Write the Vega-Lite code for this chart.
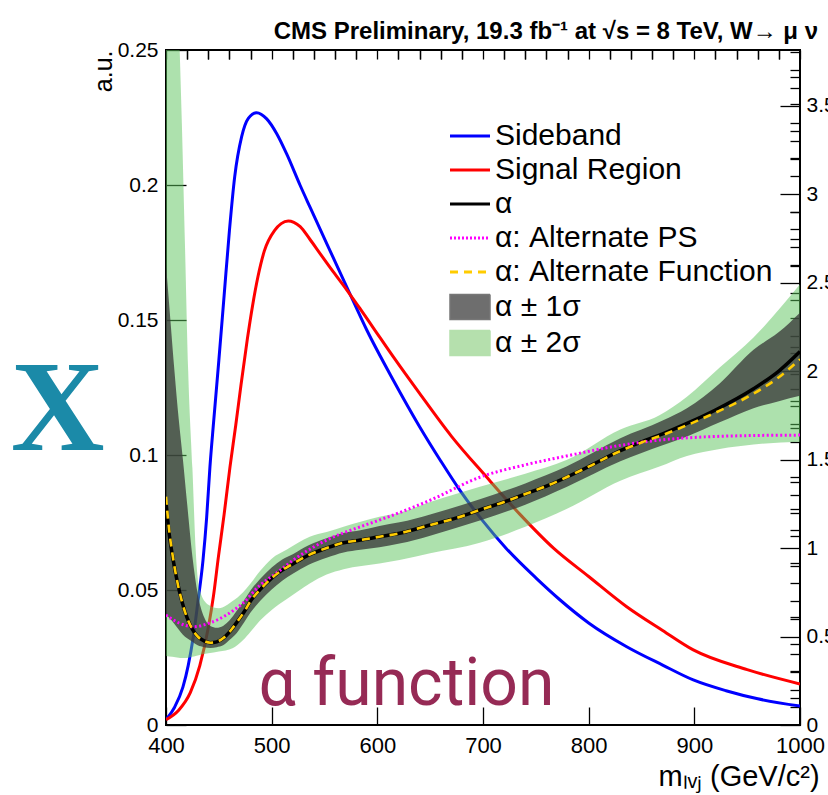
{
  "$schema": "https://vega.github.io/schema/vega-lite/v6.json",
  "width": 634,
  "height": 675,
  "autosize": {"type": "none"},
  "padding": {"left": 166, "top": 50, "right": 28, "bottom": 70},
  "background": "white",
  "config": {
    "view": {"stroke": "black", "strokeWidth": 2},
    "font": "Liberation Sans",
    "axis": {"grid": false, "domain": false, "tickColor": "black", "labelColor": "black", "titleColor": "black", "labelFont": "Liberation Sans", "titleFont": "Liberation Sans", "titleFontWeight": "normal", "tickWidth": 1.3}
  },
  "title": {"text": "CMS Preliminary, 19.3 fb⁻¹ at √s = 8 TeV, W→ μ ν", "anchor": "end", "frame": "group", "fontSize": 24, "font": "Liberation Sans", "fontWeight": "bold", "dx": 18, "dy": 37, "offset": 8, "baseline": "bottom", "color": "black"},
  "datasets": {
    "density": [
      {"m": 400, "value": 0.002, "series": "Sideband"},
      {"m": 408, "value": 0.0065, "series": "Sideband"},
      {"m": 416, "value": 0.014, "series": "Sideband"},
      {"m": 421, "value": 0.022, "series": "Sideband"},
      {"m": 425.8, "value": 0.0326, "series": "Sideband"},
      {"m": 430, "value": 0.045, "series": "Sideband"},
      {"m": 435, "value": 0.061, "series": "Sideband"},
      {"m": 438.5, "value": 0.077, "series": "Sideband"},
      {"m": 441.6, "value": 0.0957, "series": "Sideband"},
      {"m": 445, "value": 0.112, "series": "Sideband"},
      {"m": 450, "value": 0.135, "series": "Sideband"},
      {"m": 455, "value": 0.159, "series": "Sideband"},
      {"m": 460, "value": 0.183, "series": "Sideband"},
      {"m": 465, "value": 0.203, "series": "Sideband"},
      {"m": 471.6, "value": 0.2179, "series": "Sideband"},
      {"m": 477.9, "value": 0.2247, "series": "Sideband"},
      {"m": 485.8, "value": 0.2268, "series": "Sideband"},
      {"m": 495.3, "value": 0.2245, "series": "Sideband"},
      {"m": 504.8, "value": 0.219, "series": "Sideband"},
      {"m": 514.2, "value": 0.2115, "series": "Sideband"},
      {"m": 526.8, "value": 0.2, "series": "Sideband"},
      {"m": 536.3, "value": 0.1918, "series": "Sideband"},
      {"m": 552, "value": 0.1784, "series": "Sideband"},
      {"m": 571, "value": 0.1623, "series": "Sideband"},
      {"m": 590, "value": 0.1463, "series": "Sideband"},
      {"m": 615, "value": 0.1278, "series": "Sideband"},
      {"m": 640, "value": 0.1105, "series": "Sideband"},
      {"m": 660, "value": 0.0978, "series": "Sideband"},
      {"m": 678, "value": 0.087, "series": "Sideband"},
      {"m": 700, "value": 0.0755, "series": "Sideband"},
      {"m": 722, "value": 0.0654, "series": "Sideband"},
      {"m": 750, "value": 0.0545, "series": "Sideband"},
      {"m": 773, "value": 0.0463, "series": "Sideband"},
      {"m": 800, "value": 0.0378, "series": "Sideband"},
      {"m": 836, "value": 0.029, "series": "Sideband"},
      {"m": 870, "value": 0.0222, "series": "Sideband"},
      {"m": 899, "value": 0.0167, "series": "Sideband"},
      {"m": 930, "value": 0.0127, "series": "Sideband"},
      {"m": 960, "value": 0.0097, "series": "Sideband"},
      {"m": 1000, "value": 0.007, "series": "Sideband"},
      {"m": 400, "value": 0.002, "series": "Signal Region"},
      {"m": 412, "value": 0.0055, "series": "Signal Region"},
      {"m": 423, "value": 0.012, "series": "Signal Region"},
      {"m": 432, "value": 0.022, "series": "Signal Region"},
      {"m": 440, "value": 0.036, "series": "Signal Region"},
      {"m": 445, "value": 0.048, "series": "Signal Region"},
      {"m": 449.5, "value": 0.062, "series": "Signal Region"},
      {"m": 455, "value": 0.078, "series": "Signal Region"},
      {"m": 460.6, "value": 0.0957, "series": "Signal Region"},
      {"m": 466, "value": 0.111, "series": "Signal Region"},
      {"m": 471, "value": 0.126, "series": "Signal Region"},
      {"m": 477, "value": 0.143, "series": "Signal Region"},
      {"m": 482, "value": 0.1555, "series": "Signal Region"},
      {"m": 487, "value": 0.166, "series": "Signal Region"},
      {"m": 493, "value": 0.1755, "series": "Signal Region"},
      {"m": 503, "value": 0.1833, "series": "Signal Region"},
      {"m": 509, "value": 0.1857, "series": "Signal Region"},
      {"m": 515.7, "value": 0.1867, "series": "Signal Region"},
      {"m": 521, "value": 0.1862, "series": "Signal Region"},
      {"m": 527, "value": 0.1846, "series": "Signal Region"},
      {"m": 536, "value": 0.18, "series": "Signal Region"},
      {"m": 546, "value": 0.1745, "series": "Signal Region"},
      {"m": 558, "value": 0.168, "series": "Signal Region"},
      {"m": 571, "value": 0.1612, "series": "Signal Region"},
      {"m": 584, "value": 0.154, "series": "Signal Region"},
      {"m": 596, "value": 0.1472, "series": "Signal Region"},
      {"m": 615, "value": 0.1364, "series": "Signal Region"},
      {"m": 640, "value": 0.1228, "series": "Signal Region"},
      {"m": 670, "value": 0.107, "series": "Signal Region"},
      {"m": 703, "value": 0.092, "series": "Signal Region"},
      {"m": 735, "value": 0.078, "series": "Signal Region"},
      {"m": 767, "value": 0.0654, "series": "Signal Region"},
      {"m": 800, "value": 0.055, "series": "Signal Region"},
      {"m": 836, "value": 0.0438, "series": "Signal Region"},
      {"m": 870, "value": 0.035, "series": "Signal Region"},
      {"m": 899, "value": 0.0278, "series": "Signal Region"},
      {"m": 950, "value": 0.0205, "series": "Signal Region"},
      {"m": 1000, "value": 0.0152, "series": "Signal Region"}
    ],
    "alpha": [
      {"m": 400, "a": 1.26, "series": "α"},
      {"m": 403, "a": 1.08, "series": "α"},
      {"m": 406, "a": 0.96, "series": "α"},
      {"m": 410, "a": 0.83, "series": "α"},
      {"m": 415, "a": 0.70, "series": "α"},
      {"m": 420, "a": 0.605, "series": "α"},
      {"m": 425, "a": 0.54, "series": "α"},
      {"m": 430, "a": 0.50, "series": "α"},
      {"m": 436, "a": 0.475, "series": "α"},
      {"m": 442, "a": 0.465, "series": "α"},
      {"m": 448, "a": 0.47, "series": "α"},
      {"m": 454, "a": 0.49, "series": "α"},
      {"m": 460, "a": 0.525, "series": "α"},
      {"m": 467, "a": 0.58, "series": "α"},
      {"m": 474, "a": 0.64, "series": "α"},
      {"m": 480, "a": 0.70, "series": "α"},
      {"m": 489, "a": 0.765, "series": "α"},
      {"m": 500, "a": 0.83, "series": "α"},
      {"m": 510, "a": 0.875, "series": "α"},
      {"m": 520, "a": 0.91, "series": "α"},
      {"m": 535, "a": 0.96, "series": "α"},
      {"m": 552, "a": 1.0, "series": "α"},
      {"m": 568, "a": 1.03, "series": "α"},
      {"m": 584, "a": 1.045, "series": "α"},
      {"m": 602, "a": 1.064, "series": "α"},
      {"m": 621, "a": 1.083, "series": "α"},
      {"m": 650, "a": 1.13, "series": "α"},
      {"m": 675, "a": 1.17, "series": "α"},
      {"m": 697, "a": 1.215, "series": "α"},
      {"m": 720, "a": 1.26, "series": "α"},
      {"m": 740, "a": 1.305, "series": "α"},
      {"m": 760, "a": 1.35, "series": "α"},
      {"m": 779, "a": 1.40, "series": "α"},
      {"m": 800, "a": 1.46, "series": "α"},
      {"m": 830, "a": 1.55, "series": "α"},
      {"m": 850, "a": 1.60, "series": "α"},
      {"m": 870, "a": 1.645, "series": "α"},
      {"m": 893, "a": 1.704, "series": "α"},
      {"m": 920, "a": 1.78, "series": "α"},
      {"m": 956, "a": 1.90, "series": "α"},
      {"m": 980, "a": 2.00, "series": "α"},
      {"m": 1000, "a": 2.11, "series": "α"},
      {"m": 400, "a": 1.29, "series": "α: Alternate Function"},
      {"m": 403, "a": 1.10, "series": "α: Alternate Function"},
      {"m": 406, "a": 0.97, "series": "α: Alternate Function"},
      {"m": 410, "a": 0.83, "series": "α: Alternate Function"},
      {"m": 415, "a": 0.70, "series": "α: Alternate Function"},
      {"m": 420, "a": 0.605, "series": "α: Alternate Function"},
      {"m": 425, "a": 0.54, "series": "α: Alternate Function"},
      {"m": 430, "a": 0.50, "series": "α: Alternate Function"},
      {"m": 436, "a": 0.475, "series": "α: Alternate Function"},
      {"m": 442, "a": 0.465, "series": "α: Alternate Function"},
      {"m": 448, "a": 0.47, "series": "α: Alternate Function"},
      {"m": 454, "a": 0.49, "series": "α: Alternate Function"},
      {"m": 460, "a": 0.525, "series": "α: Alternate Function"},
      {"m": 467, "a": 0.58, "series": "α: Alternate Function"},
      {"m": 474, "a": 0.64, "series": "α: Alternate Function"},
      {"m": 480, "a": 0.70, "series": "α: Alternate Function"},
      {"m": 489, "a": 0.765, "series": "α: Alternate Function"},
      {"m": 500, "a": 0.83, "series": "α: Alternate Function"},
      {"m": 510, "a": 0.875, "series": "α: Alternate Function"},
      {"m": 520, "a": 0.91, "series": "α: Alternate Function"},
      {"m": 535, "a": 0.96, "series": "α: Alternate Function"},
      {"m": 552, "a": 1.0, "series": "α: Alternate Function"},
      {"m": 568, "a": 1.03, "series": "α: Alternate Function"},
      {"m": 584, "a": 1.045, "series": "α: Alternate Function"},
      {"m": 602, "a": 1.064, "series": "α: Alternate Function"},
      {"m": 621, "a": 1.083, "series": "α: Alternate Function"},
      {"m": 650, "a": 1.13, "series": "α: Alternate Function"},
      {"m": 675, "a": 1.17, "series": "α: Alternate Function"},
      {"m": 697, "a": 1.215, "series": "α: Alternate Function"},
      {"m": 720, "a": 1.26, "series": "α: Alternate Function"},
      {"m": 740, "a": 1.305, "series": "α: Alternate Function"},
      {"m": 760, "a": 1.35, "series": "α: Alternate Function"},
      {"m": 779, "a": 1.40, "series": "α: Alternate Function"},
      {"m": 800, "a": 1.46, "series": "α: Alternate Function"},
      {"m": 830, "a": 1.548, "series": "α: Alternate Function"},
      {"m": 850, "a": 1.596, "series": "α: Alternate Function"},
      {"m": 870, "a": 1.638, "series": "α: Alternate Function"},
      {"m": 893, "a": 1.694, "series": "α: Alternate Function"},
      {"m": 920, "a": 1.765, "series": "α: Alternate Function"},
      {"m": 956, "a": 1.872, "series": "α: Alternate Function"},
      {"m": 980, "a": 1.965, "series": "α: Alternate Function"},
      {"m": 1000, "a": 2.066, "series": "α: Alternate Function"},
      {"m": 400, "a": 0.621, "series": "α: Alternate PS"},
      {"m": 413, "a": 0.575, "series": "α: Alternate PS"},
      {"m": 426, "a": 0.555, "series": "α: Alternate PS"},
      {"m": 442, "a": 0.578, "series": "α: Alternate PS"},
      {"m": 457, "a": 0.621, "series": "α: Alternate PS"},
      {"m": 473, "a": 0.69, "series": "α: Alternate PS"},
      {"m": 489, "a": 0.79, "series": "α: Alternate PS"},
      {"m": 505, "a": 0.86, "series": "α: Alternate PS"},
      {"m": 520, "a": 0.93, "series": "α: Alternate PS"},
      {"m": 552, "a": 1.045, "series": "α: Alternate PS"},
      {"m": 584, "a": 1.12, "series": "α: Alternate PS"},
      {"m": 602, "a": 1.158, "series": "α: Alternate PS"},
      {"m": 621, "a": 1.2, "series": "α: Alternate PS"},
      {"m": 650, "a": 1.27, "series": "α: Alternate PS"},
      {"m": 697, "a": 1.40, "series": "α: Alternate PS"},
      {"m": 740, "a": 1.47, "series": "α: Alternate PS"},
      {"m": 779, "a": 1.52, "series": "α: Alternate PS"},
      {"m": 830, "a": 1.58, "series": "α: Alternate PS"},
      {"m": 867, "a": 1.61, "series": "α: Alternate PS"},
      {"m": 900, "a": 1.625, "series": "α: Alternate PS"},
      {"m": 950, "a": 1.635, "series": "α: Alternate PS"},
      {"m": 1000, "a": 1.638, "series": "α: Alternate PS"}
    ],
    "band1": [
      {"m": 400, "lo": 0.62, "hi": 2.60},
      {"m": 404, "lo": 0.60, "hi": 2.30},
      {"m": 408, "lo": 0.57, "hi": 2.00},
      {"m": 412, "lo": 0.54, "hi": 1.73},
      {"m": 416, "lo": 0.51, "hi": 1.50},
      {"m": 420, "lo": 0.49, "hi": 1.25},
      {"m": 425, "lo": 0.47, "hi": 0.95},
      {"m": 430, "lo": 0.45, "hi": 0.74},
      {"m": 436, "lo": 0.44, "hi": 0.61},
      {"m": 442, "lo": 0.435, "hi": 0.56},
      {"m": 448, "lo": 0.44, "hi": 0.55},
      {"m": 454, "lo": 0.45, "hi": 0.56},
      {"m": 460, "lo": 0.48, "hi": 0.59},
      {"m": 467, "lo": 0.52, "hi": 0.645},
      {"m": 474, "lo": 0.58, "hi": 0.705},
      {"m": 480, "lo": 0.635, "hi": 0.76},
      {"m": 489, "lo": 0.70, "hi": 0.825},
      {"m": 500, "lo": 0.765, "hi": 0.89},
      {"m": 510, "lo": 0.815, "hi": 0.935},
      {"m": 520, "lo": 0.855, "hi": 0.965},
      {"m": 535, "lo": 0.905, "hi": 1.015},
      {"m": 552, "lo": 0.945, "hi": 1.055},
      {"m": 568, "lo": 0.975, "hi": 1.085},
      {"m": 584, "lo": 0.99, "hi": 1.10},
      {"m": 602, "lo": 1.005, "hi": 1.125},
      {"m": 621, "lo": 1.025, "hi": 1.145},
      {"m": 650, "lo": 1.07, "hi": 1.19},
      {"m": 697, "lo": 1.155, "hi": 1.275},
      {"m": 740, "lo": 1.245, "hi": 1.365},
      {"m": 779, "lo": 1.345, "hi": 1.46},
      {"m": 830, "lo": 1.49, "hi": 1.62},
      {"m": 870, "lo": 1.58, "hi": 1.72},
      {"m": 893, "lo": 1.63, "hi": 1.79},
      {"m": 924, "lo": 1.71, "hi": 1.93},
      {"m": 956, "lo": 1.79, "hi": 2.12},
      {"m": 980, "lo": 1.83, "hi": 2.22},
      {"m": 1000, "lo": 1.86, "hi": 2.33}
    ],
    "band2": [
      {"m": 400, "lo": 0.39, "hi": 6.0},
      {"m": 406, "lo": 0.385, "hi": 5.2},
      {"m": 412, "lo": 0.38, "hi": 4.0},
      {"m": 415, "lo": 0.378, "hi": 3.4},
      {"m": 418, "lo": 0.378, "hi": 2.7},
      {"m": 421, "lo": 0.38, "hi": 2.0},
      {"m": 425, "lo": 0.385, "hi": 1.45},
      {"m": 428, "lo": 0.39, "hi": 1.0},
      {"m": 432, "lo": 0.395, "hi": 0.76},
      {"m": 440, "lo": 0.405, "hi": 0.68},
      {"m": 450, "lo": 0.415, "hi": 0.66},
      {"m": 463, "lo": 0.434, "hi": 0.70},
      {"m": 473, "lo": 0.48, "hi": 0.75},
      {"m": 480, "lo": 0.527, "hi": 0.80},
      {"m": 489, "lo": 0.59, "hi": 0.87},
      {"m": 500, "lo": 0.65, "hi": 0.94},
      {"m": 514, "lo": 0.71, "hi": 0.99},
      {"m": 536, "lo": 0.80, "hi": 1.064},
      {"m": 552, "lo": 0.85, "hi": 1.09},
      {"m": 568, "lo": 0.88, "hi": 1.12},
      {"m": 602, "lo": 0.913, "hi": 1.177},
      {"m": 621, "lo": 0.932, "hi": 1.20},
      {"m": 650, "lo": 0.97, "hi": 1.26},
      {"m": 697, "lo": 1.03, "hi": 1.346},
      {"m": 740, "lo": 1.12, "hi": 1.42},
      {"m": 779, "lo": 1.22, "hi": 1.497},
      {"m": 830, "lo": 1.38, "hi": 1.67},
      {"m": 867, "lo": 1.46, "hi": 1.75},
      {"m": 893, "lo": 1.52, "hi": 1.855},
      {"m": 924, "lo": 1.56, "hi": 2.02},
      {"m": 956, "lo": 1.585, "hi": 2.19},
      {"m": 1000, "lo": 1.60, "hi": 2.49}
    ],
    "notes": [{"text": "α function"}],
    "logo": [{"text": "X"}]
  },
  "layer": [
    {
      "layer": [
        {
          "data": {"name": "density"},
          "mark": {"type": "line", "strokeWidth": 3, "clip": true, "interpolate": "monotone"},
          "encoding": {
            "x": {"field": "m", "type": "quantitative", "scale": {"domain": [400, 1000], "nice": false, "zero": false},
              "axis": {"values": [400, 500, 600, 700, 800, 900, 1000], "format": "d", "tickSize": -18, "labelPadding": 28, "labelFontSize": 22, "labelFlush": false,
                "title": "mₗᵥⱼ (GeV/c²)", "titleFontSize": 29, "titleX": 492, "titleY": 60, "titleAlign": "left", "titleBaseline": "alphabetic", "titleAnchor": null}},
            "y": {"field": "value", "type": "quantitative", "scale": {"domain": [0, 0.25], "nice": false},
              "axis": {"values": [0, 0.05, 0.1, 0.15, 0.2, 0.25], "format": "~g", "tickSize": -20, "labelPadding": 28, "labelFontSize": 21, "labelFlush": false,
                "title": "a.u.", "titleFontSize": 25, "titleAngle": -90, "titleX": -55, "titleY": 0, "titleAlign": "right", "titleBaseline": "alphabetic", "titleAnchor": null}},
            "color": {"field": "series", "type": "nominal",
              "scale": {"domain": ["Sideband", "Signal Region", "α", "α: Alternate PS", "α: Alternate Function", "α ± 1σ", "α ± 2σ"],
                        "range": ["#0000ff", "#ff0000", "#000000", "#ff00ff", "#ffcc00", "#777777", "#b5e0ad"]},
              "legend": {"orient": "none", "legendX": 289, "legendY": 71, "title": null, "labelFontSize": 30, "labelFont": "Liberation Sans", "labelColor": "black",
                "symbolType": "stroke", "symbolSize": 1600, "symbolStrokeWidth": 3, "rowPadding": 4, "labelOffset": 10, "padding": 0, "labelLimit": 500,
                "encode": {"symbols": {"update": {
                  "shape": {"signal": "datum.value === 'α ± 1σ' || datum.value === 'α ± 2σ' ? 'M-1,-0.62H1V0.62H-1Z' : 'stroke'"},
                  "size": {"value": 1600},
                  "strokeDash": {"signal": "datum.value === 'α: Alternate PS' ? [2,2] : datum.value === 'α: Alternate Function' ? [8,6] : [1,0]"},
                  "strokeWidth": {"signal": "datum.value === 'α ± 1σ' || datum.value === 'α ± 2σ' ? 1.5 : 3"},
                  "stroke": {"signal": "datum.value === 'Sideband' ? '#0000ff' : datum.value === 'Signal Region' ? '#ff0000' : datum.value === 'α' ? '#000000' : datum.value === 'α: Alternate PS' ? '#ff00ff' : datum.value === 'α: Alternate Function' ? '#ffcc00' : '#222222'"},
                  "fill": {"signal": "datum.value === 'α ± 1σ' ? '#6e6e6e' : datum.value === 'α ± 2σ' ? '#b5e0ad' : 'transparent'"},
                  "opacity": {"value": 1}
                }}}}
            }
          }
        },
        {
          "data": {"name": "density"},
          "mark": {"type": "point", "opacity": 0},
          "encoding": {
            "x": {"field": "m", "type": "quantitative", "scale": {"domain": [400, 1000], "nice": false, "zero": false},
              "axis": {"values": [420, 440, 460, 480, 520, 540, 560, 580, 620, 640, 660, 680, 720, 740, 760, 780, 820, 840, 860, 880, 920, 940, 960, 980], "tickSize": -9, "labels": false, "title": null}},
            "y": {"field": "value", "type": "quantitative",
              "axis": {"values": [0.01, 0.02, 0.03, 0.04, 0.06, 0.07, 0.08, 0.09, 0.11, 0.12, 0.13, 0.14, 0.16, 0.17, 0.18, 0.19, 0.21, 0.22, 0.23, 0.24], "tickSize": -10, "labels": false, "title": null}}
          }
        },
        {
          "data": {"name": "density"},
          "mark": {"type": "point", "opacity": 0},
          "encoding": {
            "x": {"field": "m", "type": "quantitative",
              "axis": {"orient": "top", "values": [400, 420, 440, 460, 480, 500, 520, 540, 560, 580, 600, 620, 640, 660, 680, 700, 720, 740, 760, 780, 800, 820, 840, 860, 880, 900, 920, 940, 960, 980, 1000], "tickSize": -9, "labels": false, "title": null}},
            "y": {"field": "value", "type": "quantitative", "axis": null}
          }
        },
        {
          "data": {"name": "notes"},
          "mark": {"type": "text", "font": "Roboto", "fontSize": 66, "color": "#962a55", "align": "center", "baseline": "alphabetic"},
          "encoding": {
            "x": {"datum": 627.6, "type": "quantitative", "axis": null},
            "y": {"datum": 0.0074, "type": "quantitative", "axis": null},
            "text": {"field": "text"}
          }
        },
        {
          "data": {"name": "logo"},
          "mark": {"type": "text", "font": "Liberation Serif", "fontWeight": "bold", "fontSize": 130, "color": "#1b8aa8", "align": "center", "baseline": "alphabetic"},
          "encoding": {
            "x": {"datum": 297.5, "type": "quantitative", "axis": null},
            "y": {"datum": 0.102, "type": "quantitative", "axis": null},
            "text": {"field": "text"}
          }
        }
      ],
      "resolve": {"axis": {"x": "independent", "y": "independent"}}
    },
    {
      "layer": [
        {
          "data": {"name": "band2"},
          "mark": {"type": "area", "fill": "#5cc45c", "opacity": 0.5, "clip": true, "interpolate": "monotone"},
          "encoding": {
            "x": {"field": "m", "type": "quantitative", "scale": {"domain": [400, 1000], "nice": false, "zero": false}, "axis": null},
            "y": {"field": "lo", "type": "quantitative", "scale": {"domain": [0, 3.814], "nice": false}, "axis": null},
            "y2": {"field": "hi"}
          }
        },
        {
          "data": {"name": "band1"},
          "mark": {"type": "area", "fill": "#3a3a3a", "opacity": 0.78, "clip": true, "interpolate": "monotone"},
          "encoding": {
            "x": {"field": "m", "type": "quantitative", "axis": null},
            "y": {"field": "lo", "type": "quantitative", "axis": null},
            "y2": {"field": "hi"}
          }
        },
        {
          "data": {"name": "alpha"},
          "transform": [{"filter": "datum.series === 'α'"}],
          "mark": {"type": "line", "color": "#000000", "strokeWidth": 3.5, "clip": true, "interpolate": "monotone"},
          "encoding": {
            "x": {"field": "m", "type": "quantitative", "axis": null},
            "y": {"field": "a", "type": "quantitative", "axis": null}
          }
        },
        {
          "data": {"name": "alpha"},
          "transform": [{"filter": "datum.series === 'α: Alternate PS'"}],
          "mark": {"type": "line", "color": "#ff00ff", "strokeWidth": 3, "strokeDash": [2, 2.5], "clip": true, "interpolate": "monotone"},
          "encoding": {
            "x": {"field": "m", "type": "quantitative", "axis": null},
            "y": {"field": "a", "type": "quantitative", "axis": null}
          }
        },
        {
          "data": {"name": "alpha"},
          "transform": [{"filter": "datum.series === 'α: Alternate Function'"}],
          "mark": {"type": "line", "color": "#ffcc00", "strokeWidth": 2.6, "strokeDash": [8, 6], "clip": true, "interpolate": "monotone"},
          "encoding": {
            "x": {"field": "m", "type": "quantitative", "axis": null},
            "y": {"field": "a", "type": "quantitative", "axis": null}
          }
        },
        {
          "data": {"name": "alpha"},
          "mark": {"type": "point", "opacity": 0},
          "encoding": {
            "x": {"field": "m", "type": "quantitative", "axis": null},
            "y": {"field": "a", "type": "quantitative",
              "axis": {"orient": "right", "values": [0, 0.5, 1, 1.5, 2, 2.5, 3, 3.5], "format": "~g", "tickSize": -20, "labelPadding": 26, "labelFontSize": 21, "labelFlush": false, "title": null}}
          }
        },
        {
          "data": {"name": "alpha"},
          "mark": {"type": "point", "opacity": 0},
          "encoding": {
            "x": {"field": "m", "type": "quantitative", "axis": null},
            "y": {"field": "a", "type": "quantitative",
              "axis": {"orient": "right", "values": [0.1, 0.2, 0.3, 0.4, 0.6, 0.7, 0.8, 0.9, 1.1, 1.2, 1.3, 1.4, 1.6, 1.7, 1.8, 1.9, 2.1, 2.2, 2.3, 2.4, 2.6, 2.7, 2.8, 2.9, 3.1, 3.2, 3.3, 3.4, 3.6, 3.7, 3.8], "tickSize": -10, "labels": false, "title": null}}
          }
        }
      ],
      "resolve": {"axis": {"y": "independent"}}
    }
  ],
  "resolve": {"scale": {"y": "independent"}, "axis": {"x": "independent", "y": "independent"}}
}
